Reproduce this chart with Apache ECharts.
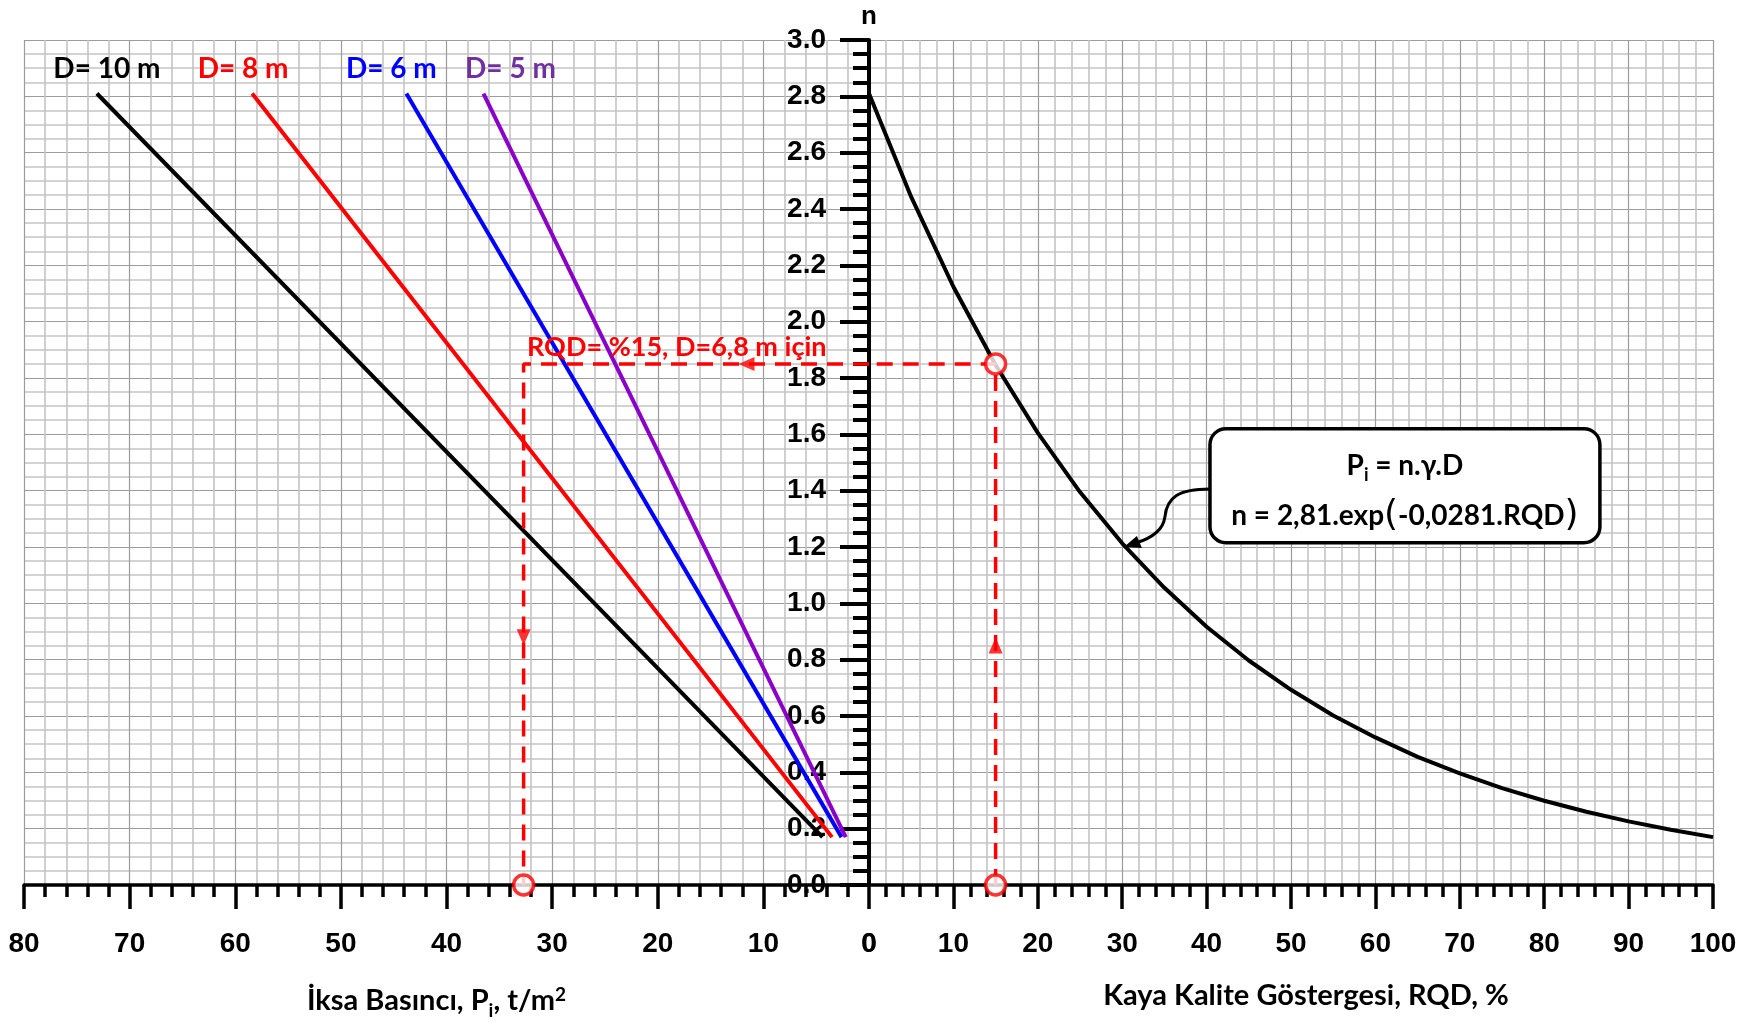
<!DOCTYPE html>
<html>
<head>
<meta charset="utf-8">
<script src="https://cdn.jsdelivr.net/npm/echarts@6/dist/echarts.min.js"></script>
<style>
  html, body { margin: 0; padding: 0; background: #fff; }
  #chart { width: 1749px; height: 1022px; }
</style>
</head>
<body>
<div id="chart"></div>
<script>
// left panel: straight lines P = n.γ.D for each depth
var depthLabels = ['D= 10 m', 'D= 8 m', 'D= 6 m', 'D= 5 m'];
var depthColors = ['#000000', '#ff0000', '#0000ff', '#8b00c9'];
var labelColors = ['#000000', '#ff0000', '#0000ff', '#7030a0'];
var pTop = [73.1, 58.4, 43.8, 36.5];
var pBottom = [4.4, 3.5, 2.6, 2.2];
var nTop = 2.81;
var nBottom = 0.17;

// right panel: n vs RQD
var rqd = [0, 5, 10, 15, 20, 25, 30, 35, 40, 45, 50, 55, 60, 65, 70, 75, 80, 85, 90, 95, 100];
var nVals = [2.81, 2.443, 2.124, 1.846, 1.605, 1.395, 1.213, 1.055, 0.917, 0.797, 0.693, 0.602, 0.524, 0.455, 0.396, 0.344, 0.299, 0.260, 0.226, 0.196, 0.170];

// worked example: RQD=15, D=6.8
var exRqd = 15;
var exN = 1.85;
var exP = 32.7;
var arrowLeftP = 11.6;
var arrowDownN = 0.88;
var arrowUpN = 0.85;

var tickFont = { fontFamily: '"Liberation Sans Narrow", "Liberation Sans"', fontWeight: 'bold', fontSize: 28, color: '#000' };
var red = '#ff0000';

var chartDom = document.getElementById('chart');
var myChart = echarts.init(chartDom);

function xAxisBase(grid, min, max, inverse) {
    return {
        type: 'value', gridIndex: grid, min: min, max: max, interval: 10, inverse: inverse,
        axisLine: { onZero: false, lineStyle: { color: '#000', width: 3.5 } },
        axisTick: { length: 24, lineStyle: { color: '#000', width: 3.5 } },
        minorTick: { show: true, splitNumber: 5, length: 12, lineStyle: { color: '#000', width: 3.5 } },
        axisLabel: Object.assign({ margin: 45 }, tickFont),
        splitLine: { show: true, lineStyle: { color: '#9c9c9c', width: 1.2 } },
        minorSplitLine: { show: true, lineStyle: { color: '#c4c4c4', width: 1.6 } }
    };
}

var titleRich = {
    a: { fontFamily: 'Lato', fontWeight: 'bold', fontSize: 29, color: '#000', lineHeight: 38, verticalAlign: 'middle' },
    s: { fontFamily: 'Lato', fontWeight: 'bold', fontSize: 19, color: '#000', lineHeight: 19, verticalAlign: 'bottom' },
    p: { fontFamily: 'Lato', fontWeight: 'bold', fontSize: 19, color: '#000', lineHeight: 19, verticalAlign: 'top', padding: [3, 0, 0, 0] }
};

var xLeft = xAxisBase(0, 0, 80, true);
xLeft.showMinLabel = false;
xLeft.name = '{a|İksa Basıncı, P}{s|i}{a|, t/m}{p|2}';
xLeft.nameLocation = 'middle';
xLeft.nameGap = 97;
xLeft.nameTextStyle = { rich: titleRich, padding: [0, 20, 0, 0] };

var xRight = xAxisBase(1, 0, 100, false);
xRight.name = 'Kaya Kalite Göstergesi, RQD, %';
xRight.nameLocation = 'middle';
xRight.nameGap = 96;
xRight.nameTextStyle = { fontFamily: 'Lato', fontWeight: 'bold', fontSize: 29, color: '#000', padding: [0, 0, 0, 30] };

var yGrid = {
    splitLine: { show: true, lineStyle: { color: '#9c9c9c', width: 1.2 } },
    minorSplitLine: { show: true, lineStyle: { color: '#c4c4c4', width: 1.6 } }
};

var series = [];
depthLabels.forEach(function (lab, i) {
    series.push({
        type: 'line', xAxisIndex: 0, yAxisIndex: 0, symbol: 'none', z: 3,
        lineStyle: { color: depthColors[i], width: 4 },
        data: [[pTop[i], nTop], [pBottom[i], nBottom]],
        markPoint: {
            symbol: 'circle', symbolSize: 0, silent: true,
            data: [{ coord: [pTop[i], nTop] }],
            label: {
                show: true, position: 'top', distance: 6, formatter: lab,
                offset: [[10, -9, -15, 27][i], -5],
                fontFamily: 'Lato', fontWeight: 'bold', fontSize: 28, color: labelColors[i]
            }
        }
    });
});

series.push({
    type: 'line', xAxisIndex: 1, yAxisIndex: 1, symbol: 'none', z: 3,
    lineStyle: { color: '#000', width: 4 },
    data: rqd.map(function (r, i) { return [r, nVals[i]]; })
});

// red dashed guide lines
var dash = { color: red, width: 3.5, type: [16, 10] };
series.push({
    type: 'line', xAxisIndex: 1, yAxisIndex: 1, symbol: 'none', z: 4,
    lineStyle: dash,
    data: [[exRqd, 0], [exRqd, exN], [0, exN]]
});
series.push({
    type: 'line', xAxisIndex: 0, yAxisIndex: 0, symbol: 'none', z: 4,
    lineStyle: dash,
    data: [[0, exN], [exP, exN], [exP, 0]],
    markPoint: {
        symbol: 'circle', symbolSize: 0, silent: true,
        data: [{ coord: [18.2, exN] }],
        label: {
            show: true, position: 'top', distance: 0, offset: [0, -3], formatter: 'RQD= %15, D=6,8 m için',
            fontFamily: 'Lato', fontWeight: 'bold', fontSize: 27, color: red
        }
    }
});
// circles
series.push({
    type: 'scatter', xAxisIndex: 1, yAxisIndex: 1, z: 5, symbol: 'circle', symbolSize: 20,
    itemStyle: { color: '#fff', borderColor: red, borderWidth: 3.5 },
    data: [[exRqd, exN], [exRqd, 0]]
});
series.push({
    type: 'scatter', xAxisIndex: 0, yAxisIndex: 0, z: 5, symbol: 'circle', symbolSize: 20,
    itemStyle: { color: '#fff', borderColor: red, borderWidth: 3.5 },
    data: [[exP, 0]]
});
// arrow heads
series.push({
    type: 'scatter', xAxisIndex: 0, yAxisIndex: 0, z: 5, symbol: 'triangle', symbolSize: [14, 16],
    itemStyle: { color: red },
    data: [
        { value: [arrowLeftP, exN], symbolRotate: 90 },
        { value: [exP, arrowDownN], symbolRotate: 180 }
    ]
});
series.push({
    type: 'scatter', xAxisIndex: 1, yAxisIndex: 1, z: 5, symbol: 'triangle', symbolSize: [14, 16],
    itemStyle: { color: red },
    data: [[exRqd, arrowUpN]]
});

var option = {
    animation: false,
    backgroundColor: '#fff',
    grid: [
        { left: 24, top: 40, width: 845, height: 845, outerBoundsMode: 'none' },
        { left: 869, top: 40, width: 844, height: 845, outerBoundsMode: 'none' }
    ],
    xAxis: [xLeft, xRight],
    yAxis: [
        Object.assign({
            type: 'value', gridIndex: 0, min: 0, max: 3, interval: 0.2,
            minorTick: { show: false, splitNumber: 4 },
            axisLine: { show: false }, axisTick: { show: false }, axisLabel: { show: false }
        }, yGrid),
        Object.assign({
            type: 'value', gridIndex: 1, min: 0, max: 3, interval: 0.2, position: 'left',
            name: 'n', nameLocation: 'end', nameGap: 10,
            nameTextStyle: { fontFamily: 'Liberation Sans', fontWeight: 'bold', fontSize: 26, color: '#000' },
            axisLine: { show: true, onZero: false, lineStyle: { color: '#000', width: 4 } },
            axisTick: { show: true, length: 29, lineStyle: { color: '#000', width: 4 } },
            minorTick: { show: true, splitNumber: 4, length: 16, lineStyle: { color: '#000', width: 4 } },
            axisLabel: Object.assign({ margin: 43, formatter: function (v) { return v.toFixed(1); } }, tickFont)
        }, yGrid)
    ],
    series: series
};

option && myChart.setOption(option);

// callout box with the formula, anchored through the right-hand scales
var tl = myChart.convertToPixel({ gridIndex: 1 }, [40.4, 1.62]);
var br = myChart.convertToPixel({ gridIndex: 1 }, [86.6, 1.215]);
var tip = myChart.convertToPixel({ gridIndex: 1 }, [30.2, 1.2]);
var tx = tip[0], ty = tip[1];
var bx = tl[0], bw = br[0] - tl[0], by = tl[1], bh = br[1] - tl[1];
var cx = bx + bw / 2;

var boxRich = {
    a: { fontFamily: 'Lato', fontWeight: 'bold', fontSize: 28, color: '#000', lineHeight: 36, verticalAlign: 'middle' },
    s: { fontFamily: 'Lato', fontWeight: 'bold', fontSize: 18, color: '#000', lineHeight: 18, verticalAlign: 'bottom' },
    b: { fontFamily: 'DejaVu Sans', fontWeight: 'normal', fontSize: 36, color: '#000', lineHeight: 36, verticalAlign: 'middle' }
};

myChart.setOption({
    graphic: [
        {
            type: 'bezierCurve', z: 10,
            shape: {
                x1: tx + 86, y1: ty - 58,
                cpx1: tx + 55, cpy1: ty - 58,
                cpx2: tx + 43, cpy2: ty - 50,
                x2: tx + 41, y2: ty - 30
            },
            style: { fill: null, stroke: '#000', lineWidth: 3 }
        },
        {
            type: 'bezierCurve', z: 10,
            shape: {
                x1: tx + 41, y1: ty - 30,
                cpx1: tx + 39, cpy1: ty - 15,
                cpx2: tx + 25, cpy2: ty - 8,
                x2: tx + 12, y2: ty - 4
            },
            style: { fill: null, stroke: '#000', lineWidth: 3 }
        },
        {
            type: 'polygon', z: 10,
            shape: { points: [[tx, ty], [tx + 18, ty + 1], [tx + 13, ty - 11]] },
            style: { fill: '#000' }
        },
        {
            type: 'rect', z: 11,
            shape: { x: bx, y: by, width: bw, height: bh, r: 16 },
            style: { fill: '#fff', stroke: '#000', lineWidth: 3.5 }
        },
        {
            type: 'text', z: 12, x: cx, y: by + 37,
            style: { text: '{a|P}{s|i}{a| = n.γ.D}', rich: boxRich, align: 'center', verticalAlign: 'middle' }
        },
        {
            type: 'text', z: 12, x: cx, y: by + 87,
            style: { text: '{a|n = 2,81.exp}{b|(}{a|-0,0281.RQD}{b|)}', rich: boxRich, align: 'center', verticalAlign: 'middle' }
        }
    ]
});
</script>
</body>
</html>
